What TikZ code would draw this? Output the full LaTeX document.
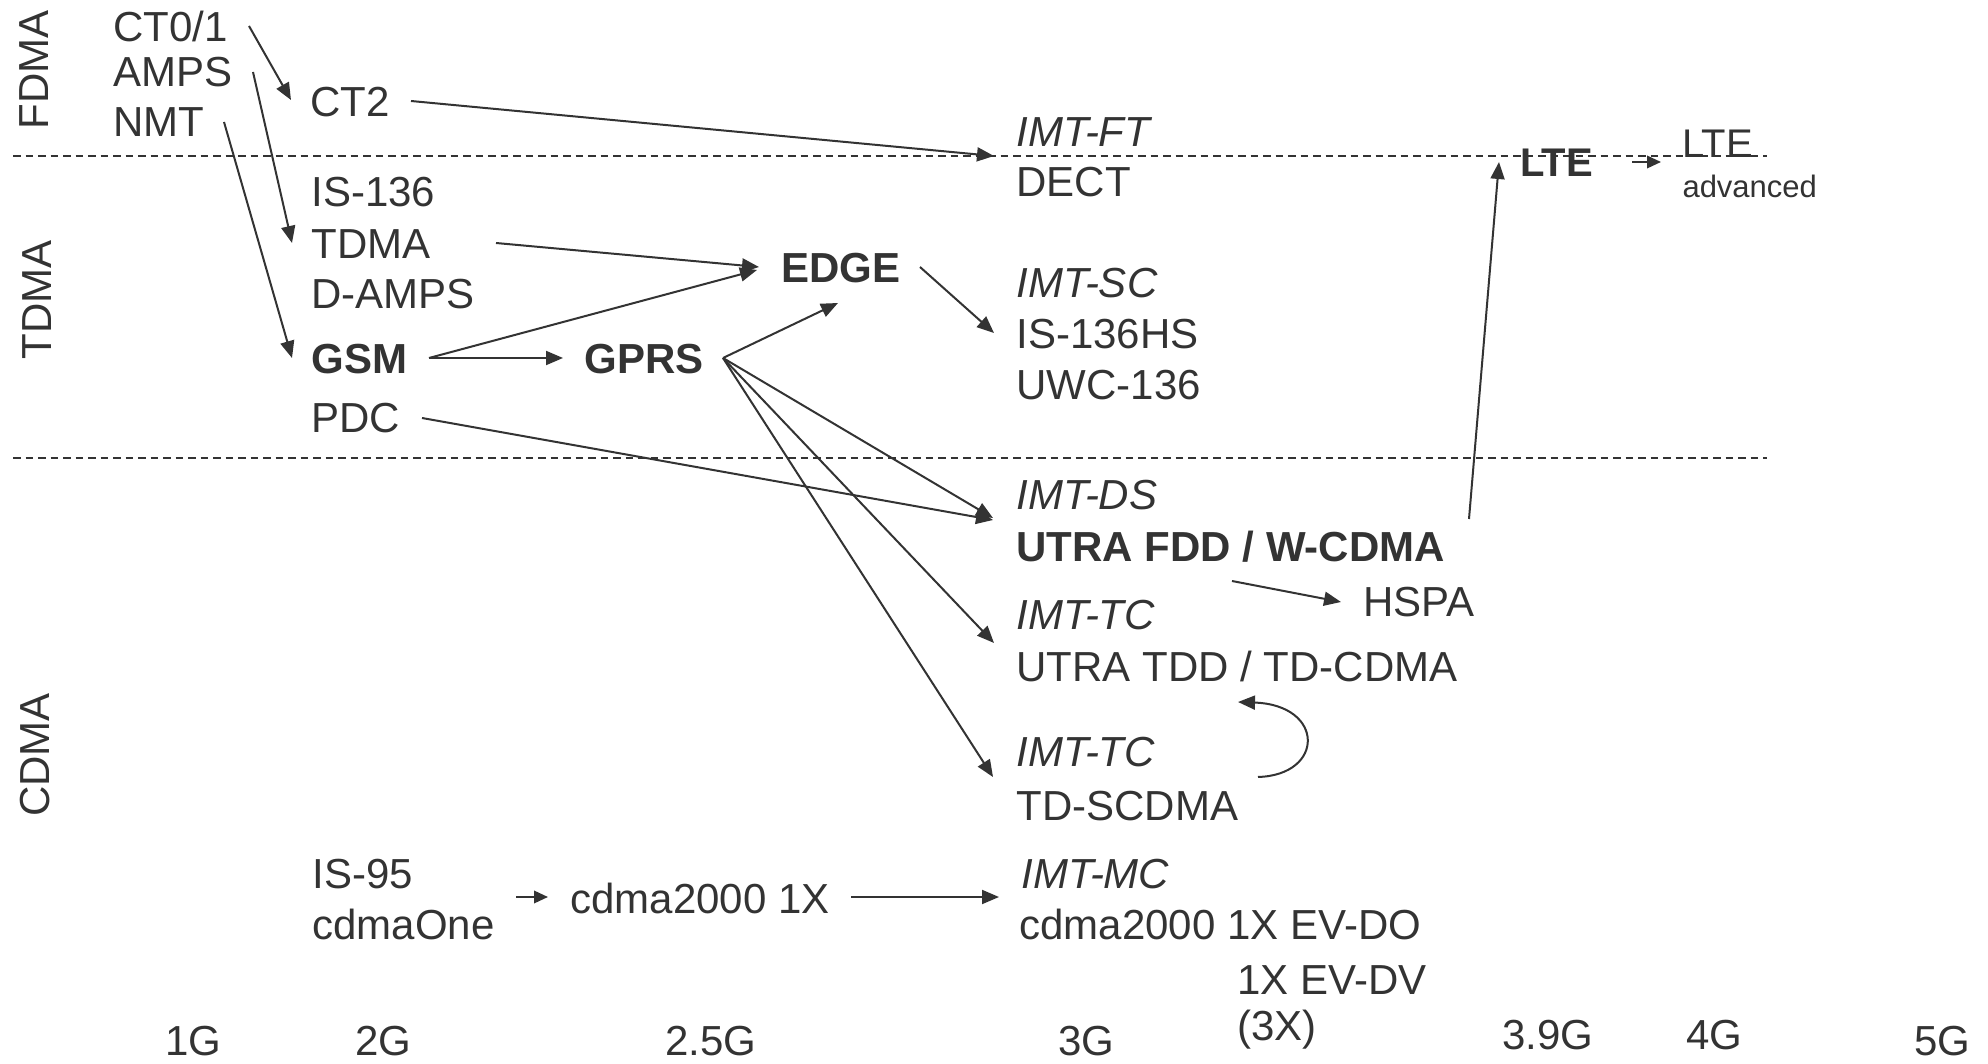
\documentclass[tikz,border=0pt]{standalone}
\usepackage{fontspec}
\setmainfont{Liberation Sans}
\usetikzlibrary{arrows.meta}
\definecolor{ink}{HTML}{333333}
\begin{document}
\begin{tikzpicture}[x=0.4pt,y=-0.4pt,
  lbl/.style={anchor=base west, inner sep=0pt, text=ink, font=\fontsize{16.8}{20}\selectfont},
  ital/.style={lbl, font=\fontsize{16.8}{20}\selectfont\itshape},
  bld/.style={lbl, font=\fontsize{16.8}{20}\selectfont\bfseries},
  lteb/.style={lbl, font=\fontsize{16}{19}\selectfont\bfseries},
  ltel/.style={lbl, font=\fontsize{16}{19}\selectfont},
  small/.style={lbl, font=\fontsize{12.4}{15}\selectfont},
  side/.style={rotate=90, inner sep=0pt, text=ink, font=\fontsize{16.8}{20}\selectfont},
  arr/.style={draw=ink, line width=0.8pt, -{Triangle[length=6.8pt,width=5.6pt]}},
  sarr/.style={draw=ink, line width=0.8pt, -{Triangle[length=5.6pt,width=5pt]}},
  sep/.style={draw=ink, line width=0.6pt, dash pattern=on 3pt off 2pt}
]
\useasboundingbox (0,0) rectangle (1988,1064);

% separators
\coordinate (d1a) at (13,156); \coordinate (d1b) at (1767,156);
\coordinate (d2a) at (13,458); \coordinate (d2b) at (1767,458);
\draw[sep] (d1a) -- (d1b);
\draw[sep] (d2a) -- (d2b);

% side labels
\node[side] (fdma) at (34,70) {FDMA};
\node[side] (tdmal) at (37,300) {TDMA};
\node[side] (cdmal) at (35,755) {CDMA};

% 1G
\node[lbl] (ct01) at (113,42) {CT0/1};
\node[lbl] (amps) at (113,87) {AMPS};
\node[lbl] (nmt) at (113,137) {NMT};

% 2G
\node[lbl] (ct2) at (310,117) {CT2};
\node[lbl] (is136) at (311,207) {IS-136};
\node[lbl] (tdma) at (311,259) {TDMA};
\node[lbl] (damps) at (311,309) {D-AMPS};
\node[bld] (gsm) at (311,374) {GSM};
\node[lbl] (pdc) at (311,433) {PDC};
\node[lbl] (is95) at (312,888) {IS-95};
\node[lbl] (cdmaone) at (312,939) {cdmaOne};

% 2.5G
\node[bld] (gprs) at (584,374) {GPRS};
\node[bld] (edge) at (781,283) {EDGE};
\node[lbl] (cdma1x) at (570,913) {cdma2000 1X};

% 3G
\node[ital] (imtft) at (1016,147) {IMT-FT};
\node[lbl] (dect) at (1016,197) {DECT};
\node[ital] (imtsc) at (1016,298) {IMT-SC};
\node[lbl] (is136hs) at (1016,349) {IS-136HS};
\node[lbl] (uwc) at (1016,400) {UWC-136};
\node[ital] (imtds) at (1016,510) {IMT-DS};
\node[bld] (utrafdd) at (1016,562) {UTRA FDD / W-CDMA};
\node[lbl] (hspa) at (1363,617) {HSPA};
\node[ital] (imttc) at (1016,630) {IMT-TC};
\node[lbl] (utratdd) at (1016,682) {UTRA TDD / TD-CDMA};
\node[ital] (imttcb) at (1016,766) {IMT-TC};
\node[lbl] (tdscdma) at (1016,820) {TD-SCDMA};
\node[ital] (imtmc) at (1021,888) {IMT-MC};
\node[lbl] (evdo) at (1019,939) {cdma2000 1X EV-DO};
\node[lbl] (evdv) at (1237,994) {1X EV-DV};
\node[lbl] (threex) at (1237,1040) {(3X)};

% LTE
\node[lteb] (lte) at (1520,177) {LTE};
\node[ltel] (lteadv) at (1682,158) {LTE};
\node[small] (advanced) at (1682,198) {advanced};

% generations
\node[lbl] (g1) at (165,1055) {1G};
\node[lbl] (g2) at (355,1055) {2G};
\node[lbl] (g25) at (665,1055) {2.5G};
\node[lbl] (g3) at (1058,1055) {3G};
\node[lbl] (g39) at (1502,1049) {3.9G};
\node[lbl] (g4) at (1686,1049) {4G};
\node[lbl] (g5) at (1914,1055) {5G};

% connectors
\draw[arr] ([shift={(136,-16)}]ct01.base west) -- ([shift={(-19,-17)}]ct2.base west);
\draw[arr] ([shift={(140,-15)}]amps.base west) -- ([shift={(-19,-16)}]tdma.base west);
\draw[arr] ([shift={(111,-15)}]nmt.base west) -- ([shift={(-19,-16)}]gsm.base west);
\draw[arr] ([shift={(101,-16)}]ct2.base west) -- ([shift={(-22,9)}]imtft.base west);
\draw[arr] ([shift={(185,-16)}]tdma.base west) -- ([shift={(-22,-16)}]edge.base west);
\draw[arr] ([shift={(118,-16)}]gsm.base west) -- ([shift={(-24,-13)}]edge.base west);
\draw[arr] ([shift={(118,-16)}]gsm.base west) -- ([shift={(-21,-16)}]gprs.base west);
\draw[arr] ([shift={(139,-16)}]gprs.base west) -- ([shift={(57,20)}]edge.base west);
\draw[arr] ([shift={(139,-16)}]edge.base west) -- ([shift={(-22,-16)}]is136hs.base west);
\draw[arr] ([shift={(139,-16)}]gprs.base west) -- ([shift={(-23,8)}]imtds.base west);
\draw[arr] ([shift={(111,-15)}]pdc.base west) -- ([shift={(-23,10)}]imtds.base west);
\draw[arr] ([shift={(139,-16)}]gprs.base west) -- ([shift={(-22,13)}]imttc.base west);
\draw[arr] ([shift={(139,-16)}]gprs.base west) -- ([shift={(-23,11)}]imttcb.base west);
\draw[arr] ([shift={(216,19)}]utrafdd.base west) -- ([shift={(-22,-15)}]hspa.base west);
\draw[arr] ([shift={(242,-43)}]tdscdma.base west)
  .. controls ([shift={(309,-45)}]tdscdma.base west) and ([shift={(309,-115)}]tdscdma.base west)
  .. ([shift={(222,20)}]utratdd.base west);
\draw[arr] ([shift={(453,-43)}]utrafdd.base west) -- ([shift={(-21,-15)}]lte.base west);
\draw[sarr] ([shift={(112,-15)}]lte.base west) -- ([shift={(-21,4)}]lteadv.base west);
\draw[sarr] ([shift={(204,9)}]is95.base west) -- ([shift={(-22,-16)}]cdma1x.base west);
\draw[arr] ([shift={(281,-16)}]cdma1x.base west) -- ([shift={(-22,9)}]imtmc.base west);
\end{tikzpicture}
\end{document}
